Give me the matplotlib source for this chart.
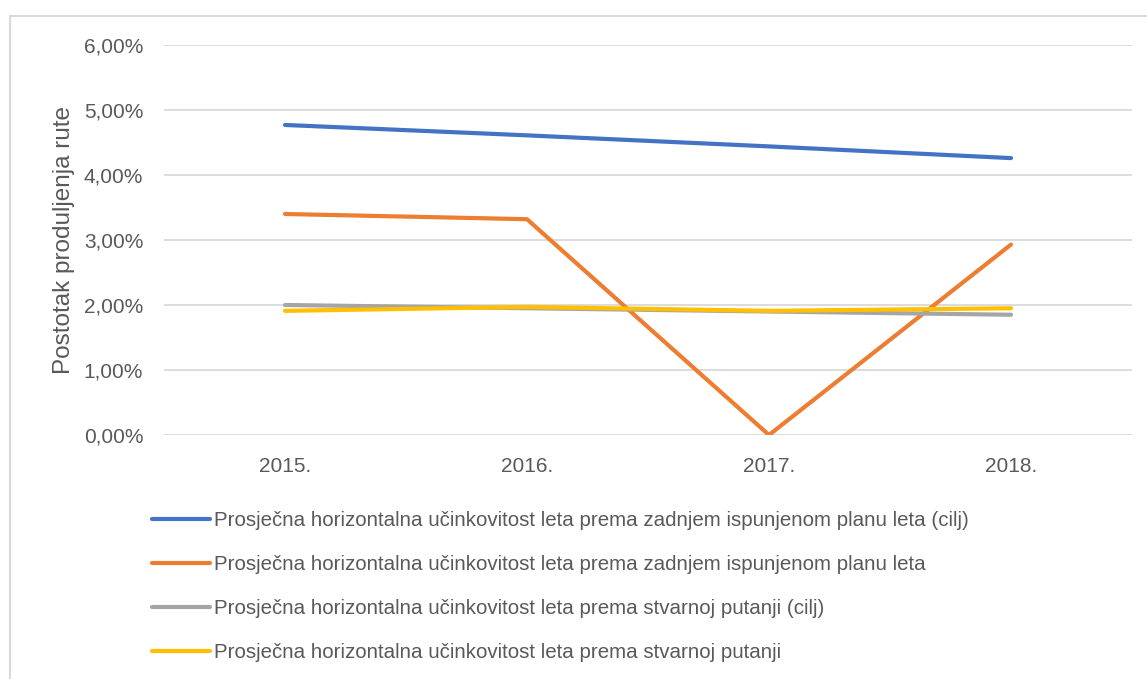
import matplotlib.pyplot as plt
from matplotlib.ticker import FuncFormatter
from matplotlib.patches import Rectangle

plt.rcParams['font.family'] = ['Liberation Sans', 'DejaVu Sans']

years = ['2015.', '2016.', '2017.', '2018.']
plan_target = [4.77, 4.61, 4.44, 4.26]
plan_actual = [3.40, 3.32, 0.00, 2.93]
track_target = [2.00, 1.95, 1.90, 1.85]
track_actual = [1.91, 1.97, 1.91, 1.95]

labels = [
    'Prosječna horizontalna učinkovitost leta prema zadnjem ispunjenom planu leta (cilj)',
    'Prosječna horizontalna učinkovitost leta prema zadnjem ispunjenom planu leta',
    'Prosječna horizontalna učinkovitost leta prema stvarnoj putanji (cilj)',
    'Prosječna horizontalna učinkovitost leta prema stvarnoj putanji',
]
colors = ['#4472c4', '#ed7d31', '#a5a5a5', '#ffc000']
txt = '#595959'

fig = plt.figure(figsize=(11.47, 6.79), dpi=100)
# chart frame (left and top edges visible)
fig.patches.append(Rectangle((10/1147, -0.1), 1.2, 1 - 16/679 + 0.1, transform=fig.transFigure,
                             fill=False, edgecolor='#d9d9d9', lw=1.5))
ax = fig.add_axes([164/1147, 1 - 435/679, 968/1147, 390/679])

x = range(len(years))
for vals, c, lab in zip([plan_target, plan_actual, track_target, track_actual], colors, labels):
    ax.plot(x, vals, color=c, lw=3, solid_capstyle='round', label=lab)

ax.set_xlim(-0.5, 3.5)
ax.set_ylim(0, 6)
ax.set_yticks([0, 1, 2, 3, 4, 5, 6])
ax.yaxis.set_major_formatter(FuncFormatter(lambda v, p: f'{v:.2f}'.replace('.', ',') + '%'))
ax.set_xticks(list(x))
ax.set_xticklabels(years)
ax.grid(axis='y', color='#d9d9d9', lw=1.3)
ax.set_axisbelow(True)
for s in ax.spines.values():
    s.set_visible(False)
ax.tick_params(length=0, labelsize=15, colors=txt)
ax.tick_params(axis='y', pad=15)
ax.tick_params(axis='x', pad=16)
ax.set_ylabel('Postotak produljenja rute', fontsize=17.5, color=txt, labelpad=6)

fig.legend(loc='upper left', bbox_to_anchor=(152/1147, 1 - 511/679), frameon=False,
           fontsize=14.8, handlelength=2.8, handletextpad=0.2, labelspacing=1.22,
           borderpad=0, borderaxespad=0, labelcolor=txt)

fig.savefig('out.png', dpi=100)
